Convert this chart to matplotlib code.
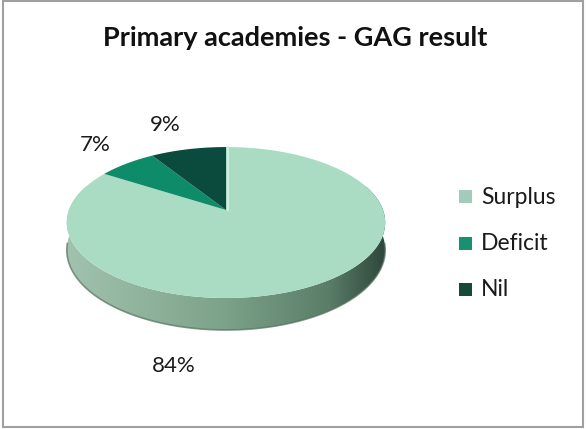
import numpy as np
import matplotlib.pyplot as plt
from matplotlib.patches import Polygon, Rectangle
from matplotlib.colors import LinearSegmentedColormap

# GAG result split for primary academies (%)
categories = ['Surplus', 'Deficit', 'Nil']
shares = [84, 7, 9]
top_colors = ['#a9dcc3', '#0e8b69', '#0b4b3d']
legend_colors = ['#a3cbbb', '#179172', '#17493b']

# tilted disc, pixel coords (x right, y down)
CX, CY = 226, 210        # projected centre of the disc
A, B = 157, 73.4         # half width / half depth of the disc
K = 0.166                # perspective strength
DEPTH = 26.7             # wall height at the centre line


def project(t, drop=0.0):
    """disc rim point at angle t (radians, ccw from 3 o'clock)"""
    u, v = np.cos(t), np.sin(t)
    w = 1 + K * v
    return CX + A * u / w, CY - B * v / w + drop / w


def rim(a0, a1, n=200, drop=0.0):
    return project(np.radians(np.linspace(a0, a1, n)), drop)


plt.rcParams['font.family'] = ['Lato', 'DejaVu Sans']
fig = plt.figure(figsize=(5.87, 4.29), dpi=100)
ax = fig.add_axes([0, 0, 1, 1])
ax.set_xlim(0, 587)
ax.set_ylim(429, 0)
ax.axis('off')

# chart frame
ax.add_patch(Rectangle((3, 0.5), 580, 426.5, fill=False, ec='#a0a0a0', lw=1.5))

# slice angle ranges, clockwise from 12 o'clock
total = float(sum(shares))
bounds = []
start = 90.0
for s in shares:
    end = start - 360.0 * s / total
    bounds.append((end, start))
    start = end

# outer wall (front half, all surplus here), shaded left to right
tx, ty = rim(160, 380)
bx, by = rim(380, 160, drop=DEPTH)
wall = Polygon(np.column_stack([np.r_[tx, bx], np.r_[ty, by]]), closed=True,
               fc='none', ec='none')
ax.add_patch(wall)
wall_cmap = LinearSegmentedColormap.from_list(
    'wall', [(0.0, '#a2c3ae'), (0.5, '#7ca289'), (0.82, '#5a7d68'),
             (1.0, '#2c4639')])
grad = np.linspace(0, 1, 256).reshape(1, -1)
im = ax.imshow(grad, cmap=wall_cmap, extent=(CX - A - 4, CX + A + 4, 340, 180),
               aspect='auto', zorder=1)
im.set_clip_path(wall)
# darker lower lip of the wall
lx, ly = rim(185, 355, drop=DEPTH)
ax.plot(lx, ly, color='#55705f', lw=1.2, zorder=2, alpha=0.7)

# top face wedges
for (a_lo, a_hi), col in zip(bounds, top_colors):
    xs, ys = rim(a_lo, a_hi)
    pts = np.column_stack([np.r_[CX, xs], np.r_[CY, ys]])
    ax.add_patch(Polygon(pts, closed=True, fc=col, ec='none', zorder=3))
# light edge along the 12 o'clock cut
ex, ey = project(np.radians(90.0))
ax.plot([CX + 1.5, ex + 1.5], [CY, ey], color='#d3efe2', lw=1.5, zorder=4)

# percentage labels
label_pos = [(174, 366), (95, 145), (165, 125)]
for s, (lx, ly) in zip(shares, label_pos):
    ax.text(lx, ly, f'{s}%', ha='center', va='center', fontsize=16,
            color='#1a1a1a', zorder=5)

ax.text(295, 38, 'Primary academies - GAG result', ha='center',
        va='center', fontsize=19.5, fontweight='bold', color='#111111')

# legend
legend_y = [197, 244, 290]
for name, col, y in zip(categories, legend_colors, legend_y):
    ax.add_patch(Rectangle((459, y - 7), 13, 13, fc=col, ec='none'))
    ax.text(481, y, name, ha='left', va='center', fontsize=16.5,
            color='#1a1a1a')

fig.savefig('out.png', dpi=100)
